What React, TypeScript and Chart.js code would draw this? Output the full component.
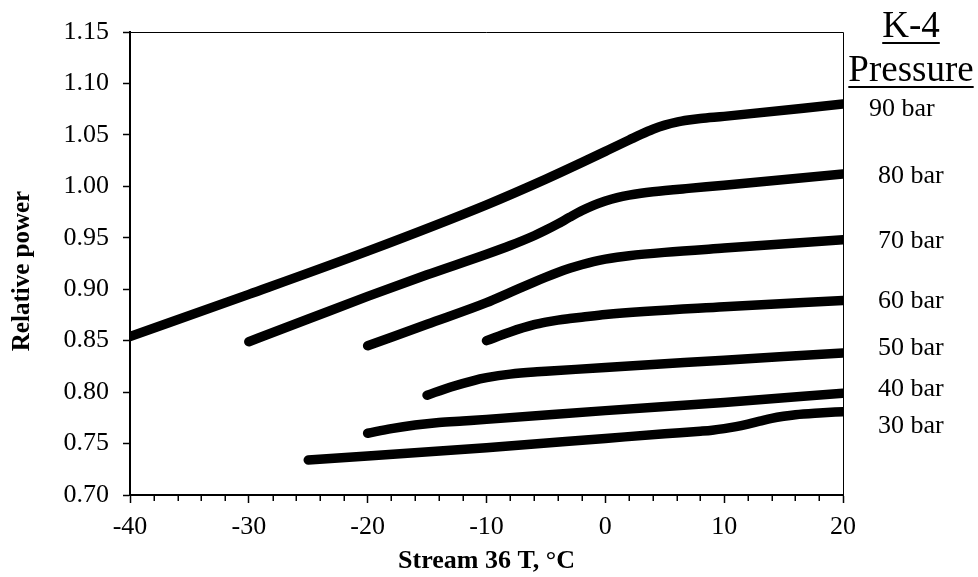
import React, { useEffect, useRef } from "react";
import { Chart, registerables } from "chart.js";

Chart.register(...registerables);

// ---- data ----
const seriesNames = ["90 bar", "80 bar", "70 bar", "60 bar", "50 bar", "40 bar", "30 bar"];

const t90 = [-40, -30, -20, -10, -5, -2, 0, 2, 3, 4, 5, 6, 7, 8, 10, 20];
const p90 = [0.854, 0.895, 0.937, 0.982, 1.007, 1.023, 1.034, 1.045, 1.0505, 1.0555, 1.0595, 1.0625, 1.0645, 1.066, 1.068, 1.08];

const t80 = [-30, -25, -20, -15, -10, -8, -6, -5, -4, -3, -2, -1, 0, 1, 2, 3, 4, 7, 10, 20];
const p80 = [0.849, 0.871, 0.893, 0.914, 0.934, 0.9425, 0.952, 0.9575, 0.9635, 0.97, 0.9762, 0.9815, 0.9858, 0.9891, 0.9915, 0.9933, 0.9947, 0.998, 1.001, 1.012];

const t70 = [-20, -15, -10, -8, -6, -5, -4, -3, -2, -1, 0, 1, 2, 5, 10, 20];
const p70 = [0.845, 0.866, 0.887, 0.897, 0.907, 0.9118, 0.9163, 0.9203, 0.9238, 0.9268, 0.9292, 0.9311, 0.9326, 0.9358, 0.94, 0.948];

const t60 = [-10, -8, -6, -5, -4, -3, -2, 0, 10, 20];
const p60 = [0.85, 0.8585, 0.8655, 0.868, 0.87, 0.8715, 0.8728, 0.8755, 0.883, 0.889];

const t50 = [-15, -13, -11, -10, -9, -8, -6, -5, 0, 10, 20];
const p50 = [0.797, 0.805, 0.8115, 0.814, 0.816, 0.8175, 0.8195, 0.8202, 0.824, 0.831, 0.838];

const t40 = [-20, -18, -16, -14, -12, -10, 0, 10, 20];
const p40 = [0.76, 0.7645, 0.768, 0.7705, 0.772, 0.7735, 0.782, 0.79, 0.799];

const t30 = [-25, -20, -10, 0, 5, 8, 9, 10, 11, 12, 13, 14, 15, 16, 18, 20];
const p30 = [0.734, 0.738, 0.746, 0.755, 0.7595, 0.762, 0.763, 0.7645, 0.7665, 0.769, 0.7718, 0.7745, 0.7765, 0.778, 0.7797, 0.781];

const xMin = -40;
const xMax = 20;
const xStep = 10;
const xMinorStep = 2;
const yMin = 0.7;
const yMax = 1.15;
const yStep = 0.05;

const xTitle = "Stream 36 T, °C";
const yTitle = "Relative power";
const headerLines = ["K-4", "Pressure"];

const temps = [t90, t80, t70, t60, t50, t40, t30];
const powers = [p90, p80, p70, p60, p50, p40, p30];

const SERIF = "'Liberation Serif', 'Times New Roman', Times, serif";

// pixel nudges for the right-hand labels (relative to each line's end)
const labelNudge = [5, 2, 1, 1, -5, -4, 15];
const labelX = [869, 878, 878, 878, 878, 878, 878];

const decorPlugin = {
  id: "decor",
  afterDraw(chart: any) {
    const { ctx, chartArea: a, scales } = chart;
    const xs = scales.x;
    const ys = scales.y;
    ctx.save();
    // top & right frame
    ctx.strokeStyle = "#000";
    ctx.lineWidth = 1;
    ctx.beginPath();
    ctx.moveTo(a.left, a.top + 0.5);
    ctx.lineTo(a.right + 0.5, a.top + 0.5);
    ctx.lineTo(a.right + 0.5, a.bottom);
    ctx.stroke();

    // minor x ticks
    ctx.lineWidth = 1.5;
    ctx.beginPath();
    for (let v = xMin + xMinorStep; v < xMax; v += xMinorStep) {
      if (v % xStep === 0) continue;
      const px = Math.round(xs.getPixelForValue(v)) + 0.25;
      ctx.moveTo(px, a.bottom);
      ctx.lineTo(px, a.bottom + 6);
    }
    ctx.stroke();

    // axis titles
    ctx.fillStyle = "#000";
    ctx.textAlign = "center";
    ctx.textBaseline = "middle";
    ctx.font = `bold 26px ${SERIF}`;
    ctx.fillText(xTitle, (a.left + a.right) / 2, 561);
    ctx.save();
    ctx.translate(23, 271);
    ctx.rotate(-Math.PI / 2);
    ctx.font = `bold 25px ${SERIF}`;
    ctx.fillText(yTitle, 0, 0);
    ctx.restore();

    // series labels
    ctx.font = `26px ${SERIF}`;
    ctx.textAlign = "left";
    powers.forEach((arr, i) => {
      const yv = ys.getPixelForValue(arr[arr.length - 1]) + labelNudge[i];
      ctx.fillText(seriesNames[i], labelX[i], yv);
    });

    // header with underlines
    ctx.font = `37px ${SERIF}`;
    ctx.textAlign = "center";
    const hx = 911;
    const hy = [27, 71];
    headerLines.forEach((t, i) => {
      ctx.fillText(t, hx, hy[i]);
      const w = ctx.measureText(t).width;
      ctx.fillRect(hx - w / 2, hy[i] + 15, w, 2);
    });
    ctx.restore();
  },
};

export default function App() {
  const ref = useRef<HTMLCanvasElement | null>(null);

  useEffect(() => {
    document.body.style.margin = "0";
    const canvas = ref.current;
    if (!canvas) return;
    const datasets = seriesNames.map((name, i) => ({
      label: name,
      data: temps[i].map((t, j) => ({ x: t, y: powers[i][j] })),
      borderColor: "#000",
      backgroundColor: "#000",
      borderWidth: 9.5,
      borderCapStyle: "round" as const,
      borderJoinStyle: "round" as const,
      pointRadius: 0,
      pointHoverRadius: 0,
      cubicInterpolationMode: "monotone" as const,
      fill: false,
    }));

    const chart = new Chart(canvas, {
      type: "line",
      data: { datasets },
      options: {
        animation: false,
        responsive: false,
        devicePixelRatio: 1,
        events: [],
        layout: { padding: { left: 0, top: 32, right: 135, bottom: 0 } },
        plugins: {
          legend: { display: false },
          tooltip: { enabled: false },
          title: { display: false },
        },
        scales: {
          x: {
            type: "linear",
            min: xMin,
            max: xMax,
            afterFit: (s: any) => {
              s.height = 82;
            },
            border: { color: "#000", width: 2 },
            grid: {
              drawOnChartArea: false,
              drawTicks: true,
              tickLength: 8,
              tickColor: "#000",
              tickWidth: 1.5,
            },
            ticks: {
              stepSize: xStep,
              color: "#000",
              padding: 9,
              maxRotation: 0,
              font: { family: SERIF, size: 26 },
              callback: (v: any) => String(v),
            },
          },
          y: {
            type: "linear",
            min: yMin,
            max: yMax,
            afterFit: (s: any) => {
              s.width = 130;
            },
            border: { color: "#000", width: 2 },
            grid: {
              drawOnChartArea: false,
              drawTicks: true,
              tickLength: 7,
              tickColor: "#000",
              tickWidth: 1.5,
            },
            ticks: {
              stepSize: yStep,
              color: "#000",
              padding: 14,
              font: { family: SERIF, size: 26 },
              callback: (v: any) => Number(v).toFixed(2),
            },
          },
        },
      },
      plugins: [decorPlugin],
    });
    return () => chart.destroy();
  }, []);

  return (
    <div style={{ position: "absolute", left: 0, top: 0, width: 978, height: 577, background: "#fff" }}>
      <canvas ref={ref} width={978} height={577} style={{ width: 978, height: 577, display: "block" }} />
    </div>
  );
}
